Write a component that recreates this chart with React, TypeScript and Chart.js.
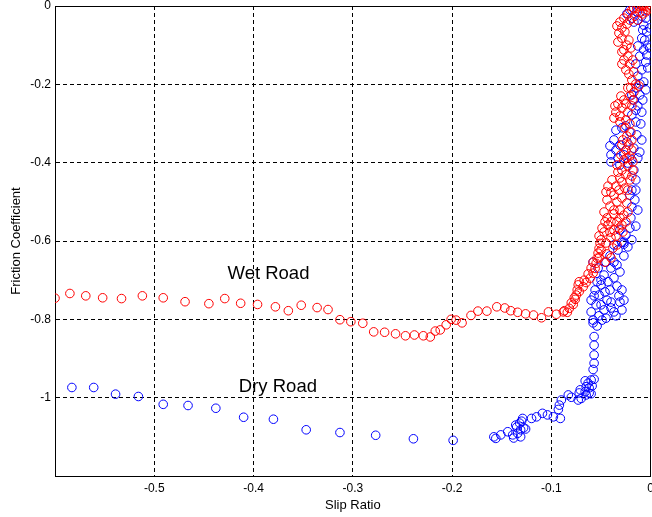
import React, { useEffect, useRef } from "react";
import { Chart, registerables } from "chart.js";

Chart.register(...registerables);

// Wet road measurements (slip ratio, friction coefficient)
const wetSlip = [
  -0.600, -0.585, -0.569, -0.552, -0.533, -0.512, -0.491, -0.469, -0.445, -0.429,
  -0.413, -0.396, -0.378, -0.365, -0.352, -0.336, -0.325, -0.313, -0.302, -0.290,
  -0.279, -0.268, -0.257, -0.247, -0.238, -0.229, -0.222, -0.217, -0.212, -0.206,
  -0.201, -0.196, -0.190, -0.181, -0.174, -0.165, -0.155, -0.147, -0.141, -0.134,
  -0.126, -0.118, -0.110, -0.103, -0.095, -0.088, -0.084, -0.082, -0.078, -0.076,
  -0.075, -0.074, -0.073, -0.072, -0.087, -0.080, -0.077, -0.072, -0.068, -0.065,
  -0.061, -0.058, -0.056, -0.055, -0.054, -0.053, -0.052, -0.051, -0.067, -0.063,
  -0.060, -0.058, -0.050, -0.044, -0.038, -0.052, -0.046, -0.040,
  -0.050, -0.045, -0.040, -0.047, -0.037, -0.043, -0.034, -0.029, -0.044, -0.037,
  -0.031, -0.027, -0.041, -0.034, -0.029, -0.024, -0.037, -0.032, -0.026, -0.043,
  -0.039, -0.031, -0.025, -0.021, -0.029, -0.023, -0.018, -0.034, -0.027, -0.021,
  -0.025, -0.022, -0.028, -0.024, -0.020, -0.026, -0.021, -0.025, -0.031, -0.035,
  -0.029, -0.023, -0.019, -0.033, -0.027, -0.021, -0.017, -0.023, -0.015, -0.019,
  -0.022, -0.025, -0.021, -0.027, -0.023, -0.027, -0.024, -0.022, -0.029, -0.032,
  -0.029, -0.031, -0.027, -0.023, -0.019, -0.014, -0.009, -0.004, -0.001, -0.005,
  -0.011, -0.016, -0.021, 0.001, -0.007,
  -0.052, -0.049, -0.046, -0.041, -0.035, -0.032, -0.025, -0.023, -0.047, -0.044,
  -0.040, -0.045, -0.035, -0.029, -0.023, -0.019, -0.033, -0.037, -0.031, -0.040,
  -0.034, -0.028, -0.018, -0.030, -0.024, -0.019, -0.029, -0.019,
  -0.037, -0.031, -0.036, -0.025, -0.030, -0.018, -0.020, -0.012, -0.017, -0.029,
  -0.018, -0.029, -0.020, -0.033, -0.026, -0.034, -0.024, -0.017, -0.012, -0.003,
  -0.008, -0.013,
];
const wetFriction = [
  -0.746, -0.734, -0.740, -0.745, -0.747, -0.740, -0.745, -0.755, -0.760, -0.747,
  -0.759, -0.762, -0.768, -0.778, -0.764, -0.770, -0.775, -0.801, -0.806, -0.810,
  -0.832, -0.833, -0.837, -0.842, -0.840, -0.842, -0.845, -0.830, -0.827, -0.814,
  -0.800, -0.802, -0.809, -0.790, -0.779, -0.779, -0.768, -0.771, -0.778, -0.782,
  -0.786, -0.789, -0.796, -0.781, -0.787, -0.781, -0.782, -0.772, -0.762, -0.749,
  -0.738, -0.725, -0.712, -0.704, -0.778, -0.758, -0.745, -0.729, -0.717, -0.706,
  -0.695, -0.682, -0.670, -0.657, -0.644, -0.631, -0.619, -0.606, -0.700, -0.684,
  -0.669, -0.654, -0.623, -0.633, -0.618, -0.643, -0.654, -0.643,
  -0.597, -0.605, -0.592, -0.577, -0.572, -0.559, -0.551, -0.559, -0.541, -0.531,
  -0.521, -0.534, -0.511, -0.500, -0.490, -0.503, -0.483, -0.470, -0.465, -0.460,
  -0.444, -0.439, -0.431, -0.444, -0.419, -0.408, -0.419, -0.406, -0.393, -0.383,
  -0.368, -0.355, -0.342, -0.332, -0.322, -0.311, -0.301, -0.291, -0.281, -0.271,
  -0.260, -0.271, -0.255, -0.250, -0.240, -0.230, -0.220, -0.209, -0.199, -0.189,
  -0.174, -0.163, -0.148, -0.138, -0.128, -0.112, -0.100, -0.087, -0.082, -0.069,
  -0.056, -0.041, -0.031, -0.020, -0.010, -0.005, 0.0, 0.0, -0.005, -0.015,
  -0.015, -0.026, -0.036, 0.0, 0.0,
  -0.587, -0.567, -0.551, -0.577, -0.587, -0.567, -0.551, -0.526, -0.526, -0.495,
  -0.475, -0.475, -0.460, -0.449, -0.470, -0.434, -0.424, -0.521, -0.541, -0.551,
  -0.610, -0.577, -0.398, -0.380, -0.388, -0.368, -0.355, -0.342,
  -0.286, -0.296, -0.255, -0.250, -0.230, -0.240, -0.209, -0.204, -0.168, -0.148,
  -0.138, -0.117, -0.107, -0.092, -0.066, -0.051, -0.046, -0.005, 0.0, -0.010,
  -0.020, -0.036,
];

// Dry road measurements (slip ratio, friction coefficient)
const drySlip = [
  -0.583, -0.561, -0.539, -0.516, -0.491, -0.466, -0.438, -0.410, -0.380, -0.347,
  -0.313, -0.277, -0.239, -0.199,
  -0.158, -0.156, -0.151, -0.144, -0.139, -0.134, -0.131, -0.132, -0.129, -0.120,
  -0.115, -0.109, -0.104, -0.098, -0.091, -0.093, -0.092, -0.090, -0.083, -0.080,
  -0.073, -0.070, -0.066, -0.065, -0.063, -0.057, -0.058, -0.057, -0.057, -0.057,
  -0.057, -0.058, -0.060, -0.062, -0.060, -0.065, -0.072, -0.135, -0.130, -0.126,
  -0.060, -0.056, -0.050, -0.058, -0.052, -0.045, -0.047, -0.055, -0.040, -0.037,
  -0.031, -0.032, -0.044, -0.052, -0.041, -0.034, -0.050, -0.037, -0.047, -0.040,
  -0.045, -0.037, -0.027, -0.029, -0.023, -0.031, -0.025, -0.021, -0.027,
  -0.019, -0.016, -0.019, -0.015, -0.017, -0.040, -0.031, -0.023, -0.040, -0.033,
  -0.027, -0.019, -0.013, -0.037, -0.031, -0.024, -0.017, -0.011, -0.035, -0.029,
  -0.021, -0.014, -0.009, -0.015, -0.019, -0.009, -0.013, -0.017, -0.011, -0.014,
  -0.007, -0.013, -0.009, -0.011, -0.005, -0.001, -0.007, -0.003, -0.009, -0.004,
  -0.007, -0.017, -0.009, -0.014, -0.019, -0.024,
  -0.058, -0.053, -0.034, -0.031, -0.043, -0.054, -0.029, -0.046, -0.057, -0.040,
  -0.027, -0.050, -0.035, -0.029, -0.049, -0.060, -0.054, -0.041, -0.037, -0.027,
  -0.033,
  -0.021, -0.013, -0.005, -0.001, -0.008, -0.006, -0.013, -0.004, -0.015, -0.003,
  -0.011, -0.005, -0.019, -0.008, -0.015, -0.010, -0.025, -0.041, -0.035, -0.015,
  -0.021, -0.013, -0.020, -0.015, -0.019,
  -0.062, -0.066, -0.059, -0.071, -0.136, -0.131, -0.128, -0.138,
];
const dryFriction = [
  -0.974, -0.974, -0.991, -0.997, -1.017, -1.020, -1.027, -1.050, -1.055, -1.082,
  -1.089, -1.096, -1.105, -1.109,
  -1.100, -1.104, -1.095, -1.087, -1.095, -1.091, -1.082, -1.065, -1.053, -1.053,
  -1.049, -1.040, -1.044, -1.049, -1.053, -1.030, -1.019, -1.006, -0.993, -0.999,
  -1.006, -1.002, -0.985, -0.972, -0.963, -0.953, -0.928, -0.912, -0.891, -0.866,
  -0.844, -0.809, -0.955, -0.975, -0.990, -0.993, -0.988, -1.075, -1.060, -1.080,
  -0.751, -0.725, -0.700, -0.802, -0.791, -0.797, -0.776, -0.763, -0.771, -0.781,
  -0.756, -0.740, -0.751, -0.738, -0.725, -0.715, -0.712, -0.694, -0.687, -0.669,
  -0.654, -0.610, -0.608, -0.603, -0.615, -0.572, -0.585, -0.567, -0.603,
  -0.513, -0.495, -0.470, -0.444, -0.419, -0.398, -0.406, -0.401, -0.380, -0.388,
  -0.380, -0.393, -0.388, -0.342, -0.355, -0.347, -0.363, -0.373, -0.317, -0.311,
  -0.322, -0.329, -0.342, -0.296, -0.278, -0.271, -0.255, -0.240, -0.227, -0.209,
  -0.194, -0.179, -0.163, -0.128, -0.143, -0.107, -0.112, -0.100, -0.082, -0.066,
  -0.049, -0.041, -0.026, -0.015, -0.031, -0.020,
  -0.654, -0.669, -0.661, -0.679, -0.704, -0.704, -0.725, -0.730, -0.740, -0.756,
  -0.751, -0.763, -0.791, -0.776, -0.802, -0.781, -0.817, -0.638, -0.654, -0.638,
  -0.623,
  -0.010, -0.036, -0.031, -0.056, -0.061, -0.087, -0.102, -0.125, -0.148, -0.158,
  -0.199, -0.214, -0.227, -0.240, -0.266, -0.301, -0.306, -0.357, -0.368, -0.470,
  -0.483, -0.521, -0.541, -0.562, -0.597,
  -0.988, -0.957, -0.970, -0.980, -1.070, -1.100, -1.077, -1.103,
];

const xTicks = { min: -0.6, max: 0, step: 0.1 };
const yTicks = { min: -1.2, max: 0, step: 0.2 };

// Text labels placed in data coordinates
const noteText = ["Wet Road", "Dry Road"];
const noteSlip = [-0.385, -0.3755];
const noteFriction = [-0.684, -0.973];

const FONT = "'Liberation Sans', Arial, Helvetica, sans-serif";

const pairs = (xs: number[], ys: number[]) => xs.map((x, i) => ({ x, y: ys[i] }));

const fmt = (v: number) => {
  const r = Math.round(v * 10) / 10;
  return r === 0 ? "0" : String(r);
};

const framePlugin = {
  id: "frame",
  beforeDatasetsDraw(chart: any) {
    const { ctx, chartArea: a } = chart;
    ctx.save();
    ctx.strokeStyle = "#000";
    ctx.lineWidth = 1;
    ctx.setLineDash([]);
    ctx.strokeRect(Math.round(a.left) + 0.5, Math.round(a.top) + 0.5,
      Math.round(a.right - a.left) - 1, Math.round(a.bottom - a.top));
    ctx.restore();
  },
};

const notesPlugin = {
  id: "notes",
  afterDatasetsDraw(chart: any) {
    const { ctx, scales } = chart;
    ctx.save();
    ctx.fillStyle = "#000";
    ctx.font = `18.5px ${FONT}`;
    ctx.textAlign = "center";
    ctx.textBaseline = "middle";
    noteText.forEach((t, i) => {
      ctx.fillText(t, scales.x.getPixelForValue(noteSlip[i]), scales.y.getPixelForValue(noteFriction[i]));
    });
    ctx.restore();
  },
};

export default function App() {
  const ref = useRef<HTMLCanvasElement | null>(null);

  useEffect(() => {
    if (!ref.current) return;
    const chart = new Chart(ref.current, {
      type: "scatter",
      data: {
        datasets: [
          {
            label: "Wet Road",
            data: pairs(wetSlip, wetFriction),
            borderColor: "#ff0000",
            backgroundColor: "rgba(0,0,0,0)",
            pointRadius: 4.3,
            pointBorderWidth: 1,
            pointHoverRadius: 4.3,
          },
          {
            label: "Dry Road",
            data: pairs(drySlip, dryFriction),
            borderColor: "#0000ff",
            backgroundColor: "rgba(0,0,0,0)",
            pointRadius: 4.3,
            pointBorderWidth: 1,
            pointHoverRadius: 4.3,
          },
        ],
      },
      options: {
        responsive: false,
        animation: false,
        devicePixelRatio: 1,
        layout: { padding: { top: 6, right: 3, left: 0, bottom: 0 } },
        plugins: { legend: { display: false }, tooltip: { enabled: false } },
        scales: {
          x: {
            type: "linear",
            min: xTicks.min,
            max: xTicks.max,
            afterFit(scale: any) {
              scale.height = 41;
              scale.paddingLeft = 0;
              scale.paddingRight = 0;
            },
            ticks: {
              stepSize: xTicks.step,
              padding: 5,
              color: "#000",
              font: { family: FONT, size: 12 },
              maxRotation: 0,
              autoSkip: false,
              callback: (v: any) => (Math.abs(Number(v) - xTicks.min) < 1e-6 ? "" : fmt(Number(v))),
            },
            grid: {
              color: "#000",
              lineWidth: 1,
              drawTicks: false,
            },
            border: { display: true, color: "#000", dash: [4, 3] },
            title: {
              display: true,
              text: "Slip Ratio",
              color: "#000",
              font: { family: FONT, size: 13 },
              padding: { top: 0, bottom: 4 },
            },
          },
          y: {
            type: "linear",
            min: yTicks.min,
            max: yTicks.max,
            afterFit(scale: any) {
              scale.width = 55;
              scale.paddingTop = 0;
              scale.paddingBottom = 0;
            },
            ticks: {
              stepSize: yTicks.step,
              padding: 4,
              color: "#000",
              font: { family: FONT, size: 12 },
              autoSkip: false,
              callback: (v: any) => (Math.abs(Number(v) - yTicks.min) < 1e-6 ? "" : fmt(Number(v))),
            },
            grid: {
              color: "#000",
              lineWidth: 1,
              drawTicks: false,
            },
            border: { display: true, color: "#000", dash: [4, 3] },
            title: {
              display: true,
              text: "Friction Coefficient",
              color: "#000",
              font: { family: FONT, size: 13 },
              padding: { top: 9, bottom: 0 },
            },
          },
        },
      },
      plugins: [framePlugin, notesPlugin],
    });
    return () => chart.destroy();
  }, []);

  // The canvas is slightly wider than its frame so the plot reaches the right edge.
  return (
    <div style={{ position: "absolute", left: 0, top: 0, width: 652, height: 517, overflow: "hidden", background: "#fff" }}>
      <canvas ref={ref} width={656} height={517} style={{ display: "block" }} />
    </div>
  );
}
